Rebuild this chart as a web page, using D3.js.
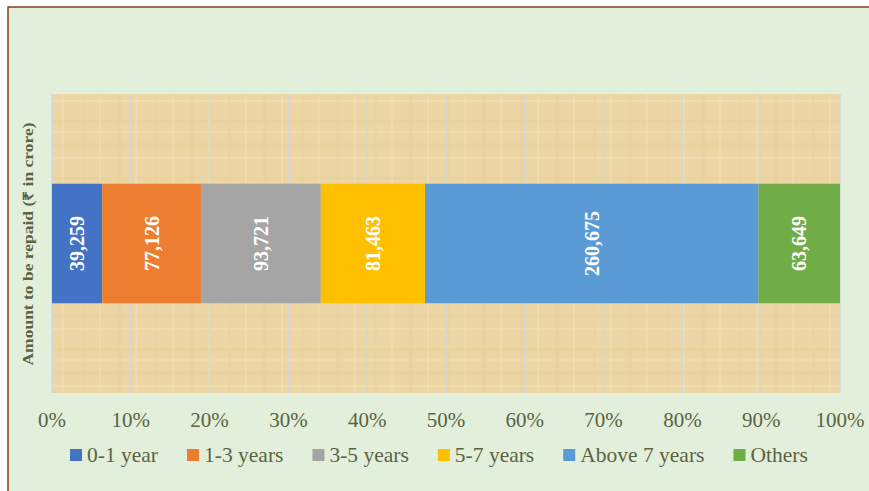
<!DOCTYPE html>
<html>
<head>
<meta charset="utf-8">
<script src="https://cdn.jsdelivr.net/npm/d3@7"></script>
<style>
  html, body { margin: 0; padding: 0; background: #fff; }
  svg text { font-family: "Liberation Serif", "Times New Roman", serif; }
</style>
</head>
<body>
<div id="container"></div>
<script>
// Repayment profile data (₹ in crore)
const categories = ["0-1 year", "1-3 years", "3-5 years", "5-7 years", "Above 7 years", "Others"];
const values = [39259, 77126, 93721, 81463, 260675, 63649];
const colors = ["#4472C4", "#ED7D31", "#A5A5A5", "#FFC000", "#5B9BD5", "#70AD47"];
const tickValues = [0, 0.1, 0.2, 0.3, 0.4, 0.5, 0.6, 0.7, 0.8, 0.9, 1.0];

const width = 869;
const height = 491;
const margin = { top: 94, right: 29, bottom: 98, left: 52 };
const textColor = "#5a6442";

const svg = d3.select("#container").append("svg")
    .attr("width", width)
    .attr("height", height)
    .style("display", "block");

// outer frame
svg.append("rect")
    .attr("x", 0).attr("y", 0).attr("width", width).attr("height", height)
    .attr("fill", "#ffffff");
svg.append("rect")
    .attr("x", 8).attr("y", 7).attr("width", width + 10).attr("height", height + 10)
    .attr("fill", "#E2EFDA")
    .attr("stroke", "#8B3E12")
    .attr("stroke-width", 1.5);

// papyrus-ish texture for the plot area
const defs = svg.append("defs");
const pat = defs.append("pattern")
    .attr("id", "papyrus")
    .attr("patternUnits", "userSpaceOnUse")
    .attr("width", 73).attr("height", 57);
pat.append("rect").attr("width", 73).attr("height", 57).attr("fill", "#EDD6A5");
const streaks = [
    [0, 6, 73, 3, "#E7CD96"], [0, 17, 73, 2, "#F2DFB2"], [0, 29, 73, 4, "#E9D09B"],
    [0, 43, 73, 2, "#F3E1B6"], [9, 0, 3, 57, "#E9D19C"], [26, 0, 2, 57, "#F1DDB0"],
    [44, 0, 4, 57, "#E8CF98"], [62, 0, 2, 57, "#F2DFB3"]
];
streaks.forEach(s => {
    pat.append("rect")
        .attr("x", s[0]).attr("y", s[1]).attr("width", s[2]).attr("height", s[3])
        .attr("fill", s[4]).attr("opacity", 0.5);
});

const x = d3.scaleLinear()
    .domain([0, 1])
    .range([margin.left, width - margin.right]);

const y = d3.scaleBand()
    .domain(["amount"])
    .range([margin.top, height - margin.bottom])
    .paddingInner(0)
    .paddingOuter(0.75);

svg.append("rect")
    .attr("x", x(0)).attr("y", margin.top)
    .attr("width", x(1) - x(0))
    .attr("height", height - margin.bottom - margin.top)
    .attr("fill", "url(#papyrus)");

// gridlines
svg.append("g")
    .selectAll("line")
    .data(tickValues)
    .join("line")
    .attr("x1", d => x(d)).attr("x2", d => x(d))
    .attr("y1", margin.top).attr("y2", height - margin.bottom)
    .attr("stroke", "#D3D6DC")
    .attr("stroke-width", 1.5);

// stacked bar
const total = d3.sum(values);
let acc = 0;
const segs = values.map((v, i) => {
    const s = { name: categories[i], value: v, x0: acc / total, x1: (acc + v) / total, color: colors[i] };
    acc += v;
    return s;
});

svg.append("g")
    .selectAll("rect")
    .data(segs)
    .join("rect")
    .attr("x", d => x(d.x0))
    .attr("y", y("amount"))
    .attr("width", d => x(d.x1) - x(d.x0))
    .attr("height", y.bandwidth())
    .attr("fill", d => d.color);

// data labels, rotated
svg.append("g")
    .selectAll("text")
    .data(segs)
    .join("text")
    .attr("transform", d => `translate(${(x(d.x0) + x(d.x1)) / 2},${y("amount") + y.bandwidth() / 2}) rotate(-90)`)
    .attr("text-anchor", "middle")
    .attr("dy", "0.35em")
    .attr("fill", "#ffffff")
    .attr("font-weight", "bold")
    .attr("font-size", 20)
    .text(d => d3.format(",")(d.value));

// x axis tick labels
svg.append("g")
    .selectAll("text")
    .data(tickValues)
    .join("text")
    .attr("x", d => x(d))
    .attr("y", 427)
    .attr("text-anchor", "middle")
    .attr("fill", textColor)
    .attr("font-size", 21)
    .text(d => d3.format(".0%")(d));

// y axis title
svg.append("text")
    .attr("transform", `translate(33,244) rotate(-90)`)
    .attr("text-anchor", "middle")
    .attr("fill", textColor)
    .attr("font-weight", "bold")
    .attr("font-size", 14)
    .attr("textLength", 243)
    .attr("lengthAdjust", "spacingAndGlyphs")
    .text("Amount to be repaid (₹ in crore)");

// legend, laid out from measured text widths
const legend = svg.append("g");
let lx = 70;
categories.forEach((c, i) => {
    const g = legend.append("g").attr("transform", `translate(${lx},449)`);
    g.append("rect")
        .attr("width", 12).attr("height", 12)
        .attr("fill", colors[i]);
    const t = g.append("text")
        .attr("x", 17).attr("y", 13)
        .attr("fill", textColor)
        .attr("font-size", 21.5)
        .text(c);
    lx += 17 + t.node().getComputedTextLength() + 29;
});
</script>
</body>
</html>
